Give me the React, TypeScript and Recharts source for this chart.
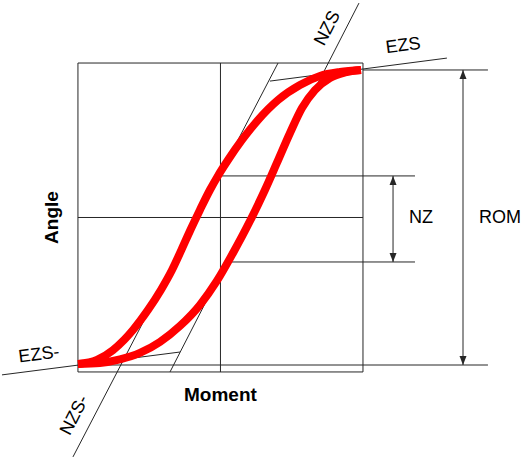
import React from 'react'
import { ComposedChart, Line, XAxis, YAxis, ReferenceDot } from 'recharts'

// Moment / angle in box units: the square frame runs from -100 to 100 on both axes
// loading branch (upper-left curve)
const loadingMoment = [-100, -86.7, -75.4, -67.7, -61.4, -50.9, -41.8, -34.0, -27.4, -21.1, -14.4, -7.4, -1.8, 5.3, 15.1, 26.3, 40.4, 55.8, 69.8, 83.9, 98.6]
const loadingAngle = [-94.8, -92.2, -85.8, -79.3, -72.8, -59.9, -46.9, -34.0, -21.0, -8.1, 4.9, 17.8, 26.9, 37.2, 50.2, 63.1, 76.1, 85.8, 91.6, 94.2, 95.5]
// unloading branch (lower-right curve)
const unloadingMoment = [-100, -84.6, -70.5, -56.5, -42.5, -28.4, -14.4, -2.5, 8.8, 20.7, 31.2, 39.6, 48.8, 57.2, 66.3, 76.8, 87.4, 98.6]
const unloadingAngle = [-94.8, -94.2, -91.9, -87.7, -80.6, -70.2, -56.6, -41.1, -23.0, -2.3, 17.8, 35.3, 54.7, 70.9, 82.5, 90.3, 93.9, 95.5]

// construction lines [moment, angle]
const frame = [[-100, -100], [-100, 100], [100, 100], [100, -100], [-100, -100]]
const zeroMoment = [[0, -100], [0, 100]]
const zeroAngle = [[-100, 0], [100, 0]]
const nzsLine = [[-35.4, -100], [97.2, 138.8]]
const nzsNegLine = [[-103.5, -155], [40.4, 100]]
const ezsLine = [[34.7, 88.3], [158.9, 103.2]]
const ezsNegLine = [[-153.3, -101.9], [-28.4, -87.1]]
const romTop = [[100, 95.5], [187.7, 95.5]]
const romBottom = [[-100, -95.5], [187.7, -95.5]]
const nzTop = [[0, 26.9], [136.5, 26.9]]
const nzBottom = [[3.9, -28.8], [136.5, -28.8]]
const romArrow = [[170.2, -95.5], [170.2, 95.5]]
const nzArrow = [[121.1, -28.8], [121.1, 26.9]]

const guides = [frame, zeroMoment, zeroAngle, nzsLine, nzsNegLine, ezsLine, ezsNegLine, romTop, romBottom, nzTop, nzBottom]
const arrows = [romArrow, nzArrow]

// annotation texts and where they sit (box units)
const labelText = ['NZS', 'EZS', 'EZS-', 'NZS-', 'NZ', 'ROM', 'Moment', 'Angle']
const labelMoment = [74.7, 128.1, -127.4, -102.8, 140.7, 196.1, 0, -118.9]
const labelAngle = [122.7, 111.7, -88.3, -127.8, 0, 0, -114.9, 0]
const labelRotation = [-63, -7.4, -7.4, -63, 0, 0, 0, -90]
const labelBold = [false, false, false, false, false, false, true, true]

const toPoints = (pairs: number[][]) => pairs.map(([m, a]) => ({ m, a }))
const zip = (ms: number[], as: number[]) => ms.map((m, i) => ({ m, a: as[i] }))

const ink = '#262626'
const font = '"Liberation Sans", Arial, sans-serif'

const ArrowHead = (props: any) => {
  const { cx, cy, index } = props
  // first point is the lower end: head points down; second points up
  const dir = index === 0 ? 1 : -1
  return (
    <path
      key={`head-${index}`}
      d={`M${cx},${cy} L${cx - 3.5},${cy - dir * 9} L${cx + 3.5},${cy - dir * 9} Z`}
      fill={ink}
    />
  )
}

export default function App() {
  return (
    <div style={{ position: 'absolute', left: 0, top: 0, background: '#fff' }}>
      <ComposedChart width={526} height={460} margin={{ top: 0, right: 0, bottom: 0, left: 0 }}>
        <XAxis type="number" dataKey="m" domain={[-154.7, 214.4]} allowDataOverflow hide />
        <YAxis type="number" dataKey="a" domain={[-157, 140.8]} allowDataOverflow hide />

        {guides.map((g, i) => (
          <Line
            key={`guide-${i}`}
            data={toPoints(g)}
            dataKey="a"
            type="linear"
            stroke={ink}
            strokeWidth={1}
            dot={false}
            activeDot={false}
            isAnimationActive={false}
          />
        ))}
        {arrows.map((g, i) => (
          <Line
            key={`arrow-${i}`}
            data={toPoints(g)}
            dataKey="a"
            type="linear"
            stroke={ink}
            strokeWidth={1}
            dot={ArrowHead}
            activeDot={false}
            isAnimationActive={false}
          />
        ))}

        <Line
          data={zip(unloadingMoment, unloadingAngle)}
          dataKey="a"
          type="monotone"
          stroke="#ff0000"
          strokeWidth={8}
          dot={false}
          activeDot={false}
          isAnimationActive={false}
        />
        <Line
          data={zip(loadingMoment, loadingAngle)}
          dataKey="a"
          type="monotone"
          stroke="#ff0000"
          strokeWidth={8}
          dot={false}
          activeDot={false}
          isAnimationActive={false}
        />

        {labelText.map((t, i) => (
          <ReferenceDot
            key={`label-${i}`}
            x={labelMoment[i]}
            y={labelAngle[i]}
            r={0}
            ifOverflow="visible"
            shape={(p: any) => (
              <text
                x={p.cx}
                y={p.cy}
                transform={`rotate(${labelRotation[i]} ${p.cx} ${p.cy})`}
                textAnchor="middle"
                dominantBaseline="central"
                fontFamily={font}
                fontSize={labelBold[i] ? 19 : 18}
                fontWeight={labelBold[i] ? 700 : 400}
                fill="#000"
              >
                {t}
              </text>
            )}
          />
        ))}
      </ComposedChart>
    </div>
  )
}
